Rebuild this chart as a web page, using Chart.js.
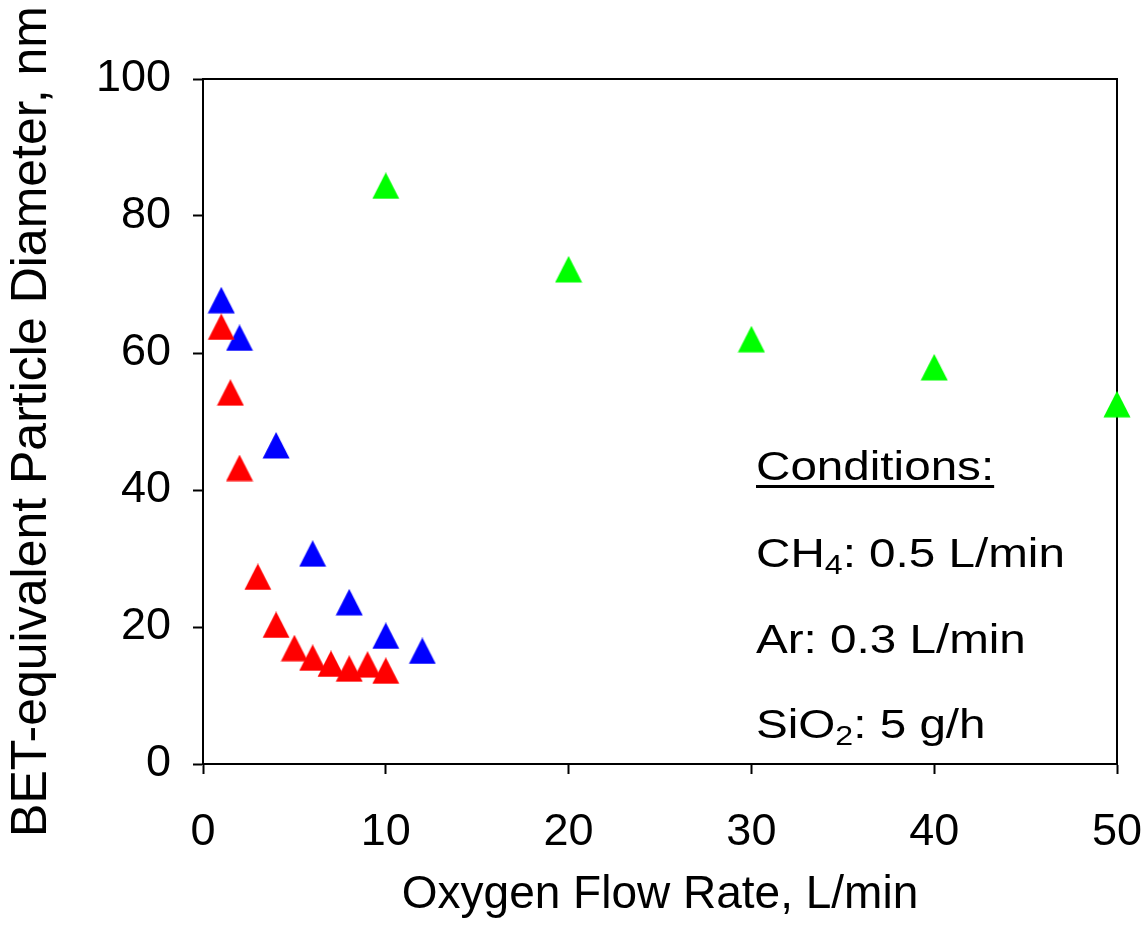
<!DOCTYPE html>
<html>
<head>
<meta charset="utf-8">
<script src="https://cdn.jsdelivr.net/npm/chart.js@4.4.1/dist/chart.umd.min.js"></script>
<style>
    body { margin: 0; background: #fff; }
    #wrap { position: relative; width: 1146px; height: 938px; }
    .note {
        position: absolute;
        left: 756px;
        font-family: 'Liberation Sans', Arial, sans-serif;
        font-size: 40px;
        line-height: 40px;
        color: #000;
        white-space: nowrap;
        transform: scaleX(1.19);
        transform-origin: left top;
    }
    .note sub { font-size: 27px; vertical-align: -7px; line-height: 0; }
    .under { text-decoration: underline; text-decoration-thickness: 3px; text-underline-offset: 5px; }
</style>
</head>
<body>
<div id="wrap">
    <canvas id="sizeChart" width="1146" height="938"></canvas>
    <div class="note under" style="top:446px">Conditions:</div>
    <div class="note" style="top:533px">CH<sub>4</sub>: 0.5 L/min</div>
    <div class="note" style="top:619px">Ar: 0.3 L/min</div>
    <div class="note" style="top:704px">SiO<sub>2</sub>: 5 g/h</div>
</div>
<script>
const redFlow = [1, 1.5, 2, 3, 4, 5, 6, 7, 8, 9, 10];
const redDiameter = [63.8, 54.2, 43.2, 27.3, 20.3, 16.9, 15.5, 14.6, 13.9, 14.5, 13.6];

const blueFlow = [1, 2, 4, 6, 8, 10, 12];
const blueDiameter = [67.7, 62.2, 46.5, 30.7, 23.6, 18.7, 16.5];

const greenFlow = [10, 20, 30, 40, 50];
const greenDiameter = [84.4, 72.2, 62.0, 57.9, 52.5];

const xTitle = 'Oxygen Flow Rate, L/min';
const yTitle = 'BET-equivalent Particle Diameter, nm';

const fontFamily = "'Liberation Sans', Arial, sans-serif";

function triangle(color) {
    const c = document.createElement('canvas');
    c.width = 28;
    c.height = 27;
    const g = c.getContext('2d');
    g.fillStyle = color;
    g.beginPath();
    g.moveTo(14, 0);
    g.lineTo(27.5, 26.5);
    g.lineTo(0.5, 26.5);
    g.closePath();
    g.fill();
    return c;
}

function toPoints(xs, ys) {
    return xs.map((x, i) => ({ x: x, y: ys[i] }));
}

// top and right edges of the plot frame
const framePlugin = {
    id: 'frame',
    beforeDatasetsDraw(chart) {
        const a = chart.chartArea;
        const ctx = chart.ctx;
        ctx.save();
        ctx.strokeStyle = '#000';
        ctx.lineWidth = 2;
        ctx.beginPath();
        ctx.moveTo(a.left, a.top);
        ctx.lineTo(a.right, a.top);
        ctx.lineTo(a.right, a.bottom);
        ctx.stroke();
        ctx.restore();
    }
};

const ctx = document.getElementById('sizeChart').getContext('2d');
const sizeChart = new Chart(ctx, {
    type: 'scatter',
    data: {
        datasets: [
            {
                label: 'series 1',
                data: toPoints(redFlow, redDiameter),
                pointStyle: triangle('#ff0000'),
                backgroundColor: '#ff0000',
                clip: false
            },
            {
                label: 'series 2',
                data: toPoints(blueFlow, blueDiameter),
                pointStyle: triangle('#0000ff'),
                backgroundColor: '#0000ff',
                clip: false
            },
            {
                label: 'series 3',
                data: toPoints(greenFlow, greenDiameter),
                pointStyle: triangle('#00ff00'),
                backgroundColor: '#00ff00',
                clip: false
            }
        ]
    },
    options: {
        responsive: false,
        animation: false,
        layout: {
            padding: { top: 79, right: 29, left: 0, bottom: 0 }
        },
        plugins: {
            legend: { display: false },
            tooltip: { enabled: false }
        },
        scales: {
            x: {
                type: 'linear',
                min: 0,
                max: 50,
                afterFit: function (scale) {
                    scale.height = 174;
                    scale.paddingLeft = 0;
                    scale.paddingRight = 0;
                },
                ticks: {
                    stepSize: 10,
                    color: '#000',
                    padding: 32,
                    maxRotation: 0,
                    font: { family: fontFamily, size: 45 }
                },
                grid: {
                    drawOnChartArea: false,
                    tickLength: 10,
                    tickColor: '#000',
                    tickWidth: 2
                },
                border: { color: '#000', width: 2 },
                title: {
                    display: true,
                    text: xTitle,
                    color: '#000',
                    font: { family: fontFamily, size: 46 },
                    padding: { top: 0, bottom: 15 }
                }
            },
            y: {
                min: 0,
                max: 100,
                afterFit: function (scale) {
                    scale.width = 203;
                    scale.paddingTop = 0;
                    scale.paddingBottom = 0;
                },
                ticks: {
                    stepSize: 20,
                    color: '#000',
                    padding: 22,
                    font: { family: fontFamily, size: 45 }
                },
                grid: {
                    drawOnChartArea: false,
                    tickLength: 10,
                    tickColor: '#000',
                    tickWidth: 2
                },
                border: { color: '#000', width: 2 },
                title: {
                    display: true,
                    text: yTitle,
                    color: '#000',
                    font: { family: fontFamily, size: 50 },
                    padding: { top: 2, bottom: 0 }
                }
            }
        }
    },
    plugins: [framePlugin]
});
</script>
</body>
</html>
